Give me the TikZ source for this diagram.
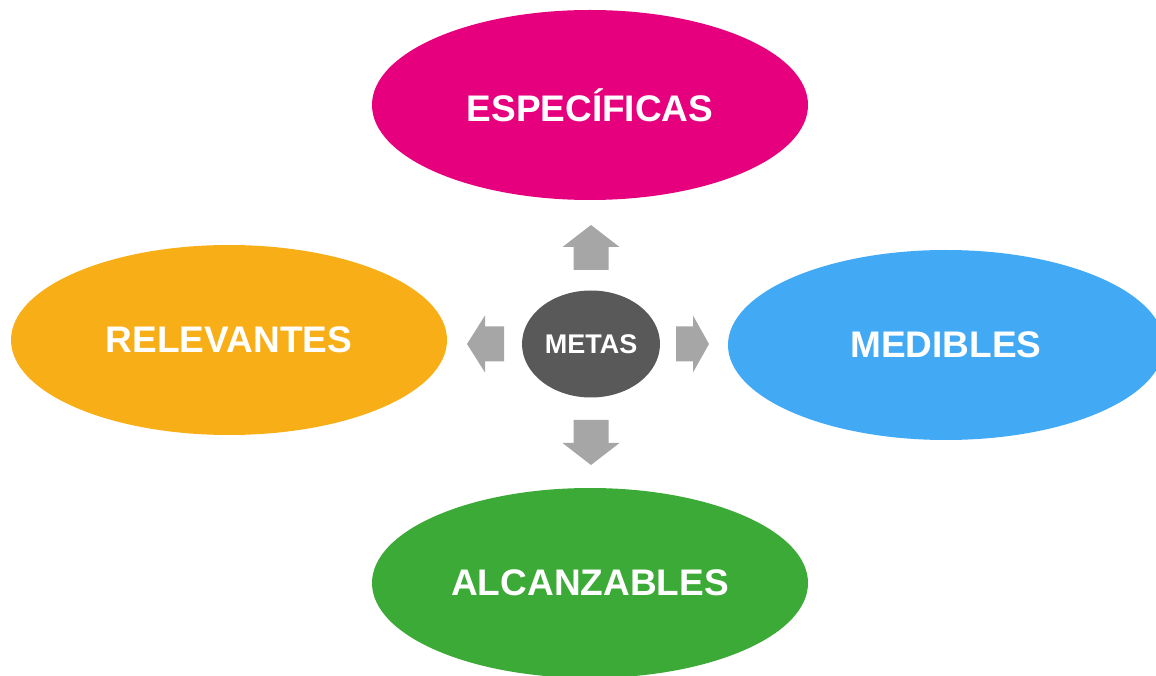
\documentclass[tikz,border=0pt]{standalone}
\usepackage{fontspec}
\setmainfont{Liberation Sans}
\usepackage{tikz}
\usetikzlibrary{shapes.geometric}

\definecolor{magenta}{HTML}{E6007E}
\definecolor{naranja}{HTML}{F8AF17}
\definecolor{celeste}{HTML}{42A9F4}
\definecolor{verde}{HTML}{3CAA36}
\definecolor{grisosc}{HTML}{595959}
\definecolor{grisfl}{HTML}{A6A6A6}

\begin{document}
\begin{tikzpicture}[x=1pt,y=1pt,
  meta/.style={ellipse,inner sep=0pt,minimum width=436,minimum height=190,
    text=white,font=\fontsize{37}{41}\selectfont\bfseries},
  flecha/.style={fill=grisfl}]
\clip(0,0) rectangle (1156,675);
\useasboundingbox (0,0) rectangle (1156,675);

\node[ellipse,fill=grisosc,minimum width=138,minimum height=107,inner sep=0pt,
  text=white,font=\fontsize{27}{31}\selectfont\bfseries] (metas) at (591,331) {METAS};

\node[meta,fill=magenta] (espec) at (590,570) {ESPECÍFICAS};
\node[meta,fill=naranja] (relev) at (229,335) {RELEVANTES};
\node[meta,fill=celeste] (medib) at (946,330) {MEDIBLES};
\node[meta,fill=verde] (alcan) at (590,92) {ALCANZABLES};

% block arrows around the centre
\foreach \ang/\st/\sh/\hd in {90/74/23/22, 270/76/23/22, 180/87/19/18, 0/85/17/16}{
  \begin{scope}[shift={(metas.center)},rotate=\ang]
  \fill[flecha] (\st,-17.5) -- ++(\sh,0) -- ++(0,-11) -- ++(\hd,28.5)
    -- ++(-\hd,28.5) -- ++(0,-11) -- ++(-\sh,0) -- cycle;
  \end{scope}
}

\end{tikzpicture}
\end{document}
